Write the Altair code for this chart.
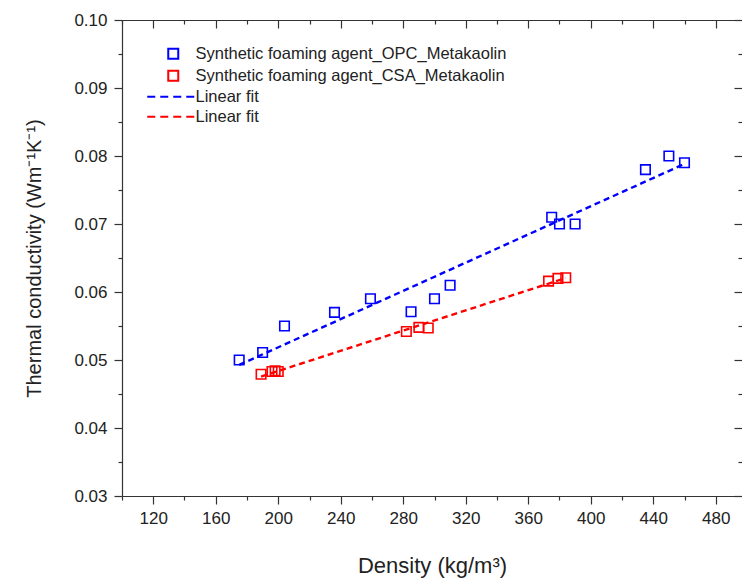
import altair as alt
import pandas as pd

# ---- data ----
opc_density = [175, 190, 204, 236, 259, 285, 300, 310, 375, 380, 390, 435, 450, 460]
opc_k = [0.0500, 0.0511, 0.0550, 0.0570, 0.0590, 0.0571, 0.0590, 0.0610,
         0.0710, 0.0700, 0.0700, 0.0780, 0.0800, 0.0790]
csa_density = [189, 196, 198, 200, 282, 290, 296, 373, 379, 384]
csa_k = [0.0479, 0.0483, 0.0484, 0.0483, 0.0542, 0.0548, 0.0547, 0.0616, 0.0620, 0.0621]

opc_name = "Synthetic foaming agent_OPC_Metakaolin"
csa_name = "Synthetic foaming agent_CSA_Metakaolin"
legend_names = [opc_name, csa_name, "fit_OPC", "fit_CSA"]

x_major = [120, 160, 200, 240, 280, 320, 360, 400, 440, 480]
x_minor = [100, 140, 180, 220, 260, 300, 340, 380, 420, 460]
y_major = [0.03, 0.04, 0.05, 0.06, 0.07, 0.08, 0.09, 0.10]
y_minor = [0.035, 0.045, 0.055, 0.065, 0.075, 0.085, 0.095]

BLUE = "#0000ff"
RED = "#ff0000"
FONT = "Liberation Sans"

df = pd.DataFrame({
    "density": opc_density + csa_density,
    "k": opc_k + csa_k,
    "series": [opc_name] * len(opc_density) + [csa_name] * len(csa_density),
})
df_opc = df[df.series == opc_name]
df_csa = df[df.series == csa_name]

xscale = alt.Scale(domain=[100, 496.8], nice=False, zero=False)
yscale = alt.Scale(domain=[0.03, 0.10], nice=False, zero=False)

dash_path = "M-5.2,0H-3.6M-2.6,0H-1M0,0H1.6M2.6,0H4.2"

x_axis_main = alt.Axis(
    orient="bottom", values=sorted(x_major + x_minor),
    labelExpr="datum.value % 40 === 0 ? datum.label : ''",
    tickSize={"condition": {"test": "datum.value % 40 !== 0", "value": 4}, "value": 8},
    labelOverlap=False, labelFlush=False, labelPadding=6, format="d",
    title="Density (kg/m³)", titlePadding=29, titleFontSize=22,
)
y_axis_main = alt.Axis(
    orient="left", values=sorted(y_major + y_minor),
    labelExpr="round(datum.value * 1000) % 10 === 0 ? datum.label : ''",
    tickSize={"condition": {"test": "round(datum.value * 1000) % 10 !== 0", "value": 4}, "value": 8},
    labelOverlap=False, labelFlush=False, labelPadding=7, format=".2f",
    title="Thermal conductivity (Wm⁻¹K⁻¹)", titlePadding=29, titleFontSize=20,
)

points = alt.Chart(df).mark_point(filled=False, opacity=1, strokeWidth=1.6, size=90).encode(
    x=alt.X("density:Q", scale=xscale, axis=x_axis_main),
    y=alt.Y("k:Q", scale=yscale, axis=y_axis_main),
    color=alt.Color("series:N", scale=alt.Scale(domain=legend_names, range=[BLUE, RED, BLUE, RED]),
                    legend=alt.Legend(
                        orient="none", legendX=43, legendY=25.5, title=None, padding=0,
                        labelFont=FONT, labelFontSize=16.5, labelColor="#222", labelOffset=14,
                        labelLimit=0, rowPadding=3, symbolSize=100, symbolStrokeWidth=2,
                        labelExpr="indexof(datum.value, 'fit_') === 0 ? 'Linear fit' : datum.label",
                    )),
    shape=alt.Shape("series:N", scale=alt.Scale(domain=legend_names,
                                                range=["square", "square", dash_path, dash_path])),
)

top_domain_axis = alt.Axis(orient="top", domain=True, ticks=False, labels=False, title=None, grid=False)

fit_opc = alt.Chart(df_opc).transform_regression("density", "k").mark_line(
    color=BLUE, strokeDash=[6, 4], strokeWidth=2.4).encode(
    x=alt.X("density:Q", scale=xscale, axis=top_domain_axis),
    y=alt.Y("k:Q", scale=yscale, axis=None),
)
fit_csa = alt.Chart(df_csa).transform_regression("density", "k").mark_line(
    color=RED, strokeDash=[6, 4], strokeWidth=2.4).encode(
    x=alt.X("density:Q", scale=xscale, axis=None),
    y=alt.Y("k:Q", scale=yscale, axis=None),
)

def inward(values_x, values_y, size):
    return alt.Chart(df).mark_point(opacity=0).encode(
        x=alt.X("density:Q", scale=xscale,
                axis=alt.Axis(orient="top", offset=-size, tickSize=size, values=values_x,
                              domain=False, labels=False, title=None, grid=False)),
        y=alt.Y("k:Q", scale=yscale,
                axis=alt.Axis(orient="right", offset=-size, tickSize=size, values=values_y,
                              domain=False, labels=False, title=None, grid=False)),
    )

chart = alt.layer(points, fit_opc, fit_csa, inward(x_major, y_major, 8), inward(x_minor, y_minor, 4)).resolve_axis(
    x="independent", y="independent"
).properties(
    width=620, height=476,
    autosize=alt.AutoSizeParams(type="none"),
    padding={"left": 122, "top": 20, "right": 0, "bottom": 85},
).configure_view(strokeWidth=0).configure_axis(
    grid=False, domainColor="#333", tickColor="#333", domainWidth=1.2, tickWidth=1.2,
    labelFont=FONT, labelFontSize=17, labelColor="#222",
    titleFont=FONT, titleFontWeight="normal", titleColor="#222",
)

chart.save("out.html", embed_options={"renderer": "svg", "actions": False})
